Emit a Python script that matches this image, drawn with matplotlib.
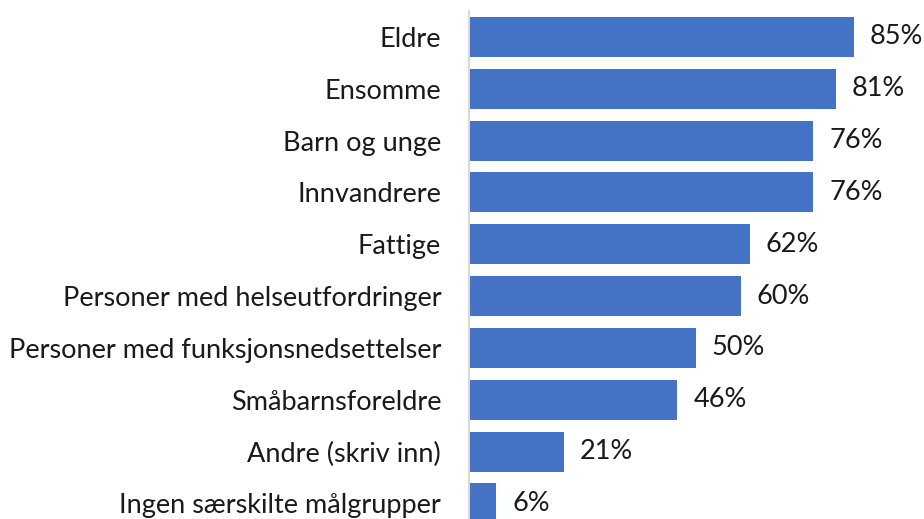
import matplotlib

matplotlib.use("Agg")
import matplotlib.pyplot as plt

categories = [
    "Eldre",
    "Ensomme",
    "Barn og unge",
    "Innvandrere",
    "Fattige",
    "Personer med helseutfordringer",
    "Personer med funksjonsnedsettelser",
    "Småbarnsforeldre",
    "Andre (skriv inn)",
    "Ingen særskilte målgrupper",
]
values = [85, 81, 76, 76, 62, 60, 50, 46, 21, 6]

BAR_COLOR = "#4472C4"
TEXT_COLOR = "#1a1a1a"

plt.rcParams["font.family"] = ["Lato", "DejaVu Sans"]

fig = plt.figure(figsize=(9.24, 5.19), dpi=100)
ax = fig.add_axes([469 / 924, 0, 1 - 469 / 924, 1 - 11 / 519])

ypos = list(range(len(categories)))
ax.barh(ypos, values, height=0.77, color=BAR_COLOR)
for y, v in zip(ypos, values):
    ax.text(v + 3.5, y, f"{v}%", va="center", ha="left", fontsize=19.5, color=TEXT_COLOR)

ax.set_xlim(0, 100.4)
ax.set_ylim(9.3, -0.5)
ax.set_yticks(ypos, labels=categories)
ax.tick_params(axis="y", length=0, pad=20, labelsize=19.5, labelcolor=TEXT_COLOR)
ax.set_xticks([])
for side in ["top", "right", "bottom"]:
    ax.spines[side].set_visible(False)
ax.spines["left"].set_color("#d9d9d9")
ax.spines["left"].set_linewidth(1.5)

fig.savefig("out.png", dpi=100)
